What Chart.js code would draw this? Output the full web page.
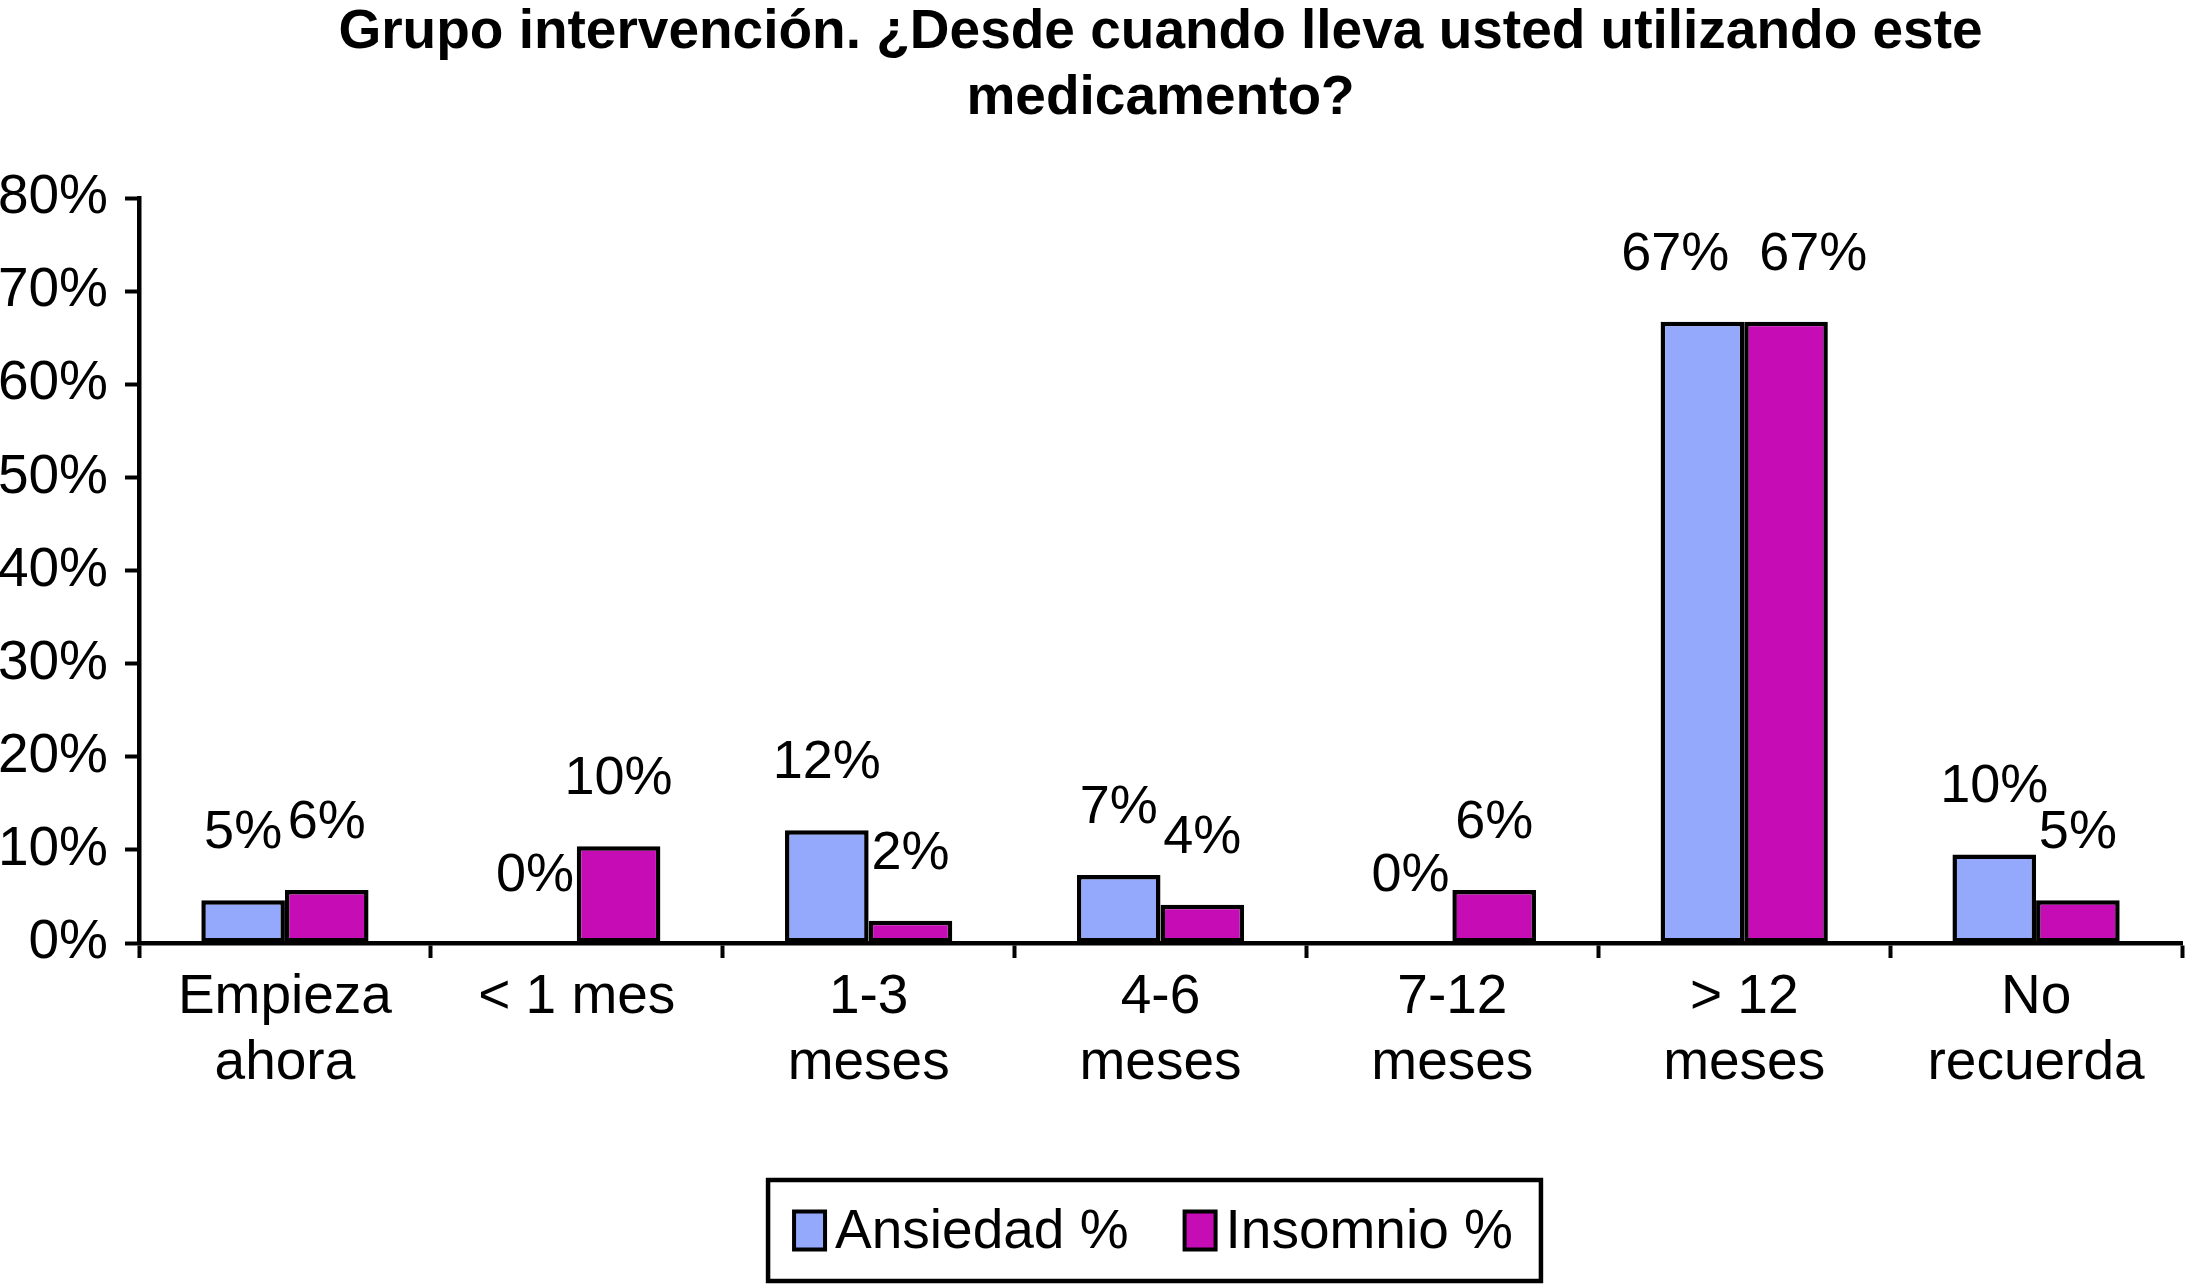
<!DOCTYPE html>
<html>
<head>
<meta charset="utf-8">
<script src="https://cdn.jsdelivr.net/npm/chart.js@4.4.1/dist/chart.umd.min.js"></script>
<style>
  html, body { margin: 0; padding: 0; background: #fff; }
  #caja { width: 2185px; height: 1285px; position: relative; }
</style>
</head>
<body>
<div id="caja"><canvas id="barChart"></canvas></div>
<script>
// Datos de la gráfica
const categorias = [
    ['Empieza', 'ahora'],
    ['< 1 mes'],
    ['1-3', 'meses'],
    ['4-6', 'meses'],
    ['7-12', 'meses'],
    ['> 12', 'meses'],
    ['No', 'recuerda']
];
const series = ['Ansiedad %', 'Insomnio %'];
const ansiedad = [4.6, 0, 12.1, 7.3, 0, 66.7, 9.5];
const insomnio = [5.7, 10.4, 2.4, 4.1, 5.7, 66.7, 4.6];
const ticksY = [0, 10, 20, 30, 40, 50, 60, 70, 80];

const fuente = "'Liberation Sans', Arial, sans-serif";

// Etiquetas de valor encima de cada barra
const etiquetas = {
    id: 'etiquetas',
    afterDatasetsDraw(chart) {
        const ctx = chart.ctx;
        ctx.save();
        ctx.font = '54px ' + fuente;
        ctx.fillStyle = '#000';
        ctx.textAlign = 'center';
        ctx.textBaseline = 'middle';
        categorias.forEach((c, i) => {
            const items = chart.data.datasets.map((ds, d) => {
                const el = chart.getDatasetMeta(d).data[i];
                const text = Math.round(ds.data[i]) + '%';
                return { x: el.x, y: el.y, text: text, w: ctx.measureText(text).width };
            });
            // separar solo si se pisan mucho
            for (let k = 1; k < items.length; k++) {
                const a = items[k - 1], b = items[k];
                if (a.x + a.w / 2 - (b.x - b.w / 2) > 15) {
                    const mid = (a.x + b.x) / 2;
                    const need = (a.w + b.w) / 2 + 30;
                    a.x = mid - need / 2;
                    b.x = mid + need / 2;
                }
            }
            items.forEach(it => ctx.fillText(it.text, it.x, it.y - 67));
        });
        ctx.restore();
    }
};

// Leyenda con recuadro
const leyenda = {
    id: 'leyenda',
    afterDraw(chart) {
        const ctx = chart.ctx;
        const area = chart.chartArea;
        ctx.save();
        ctx.font = '55px ' + fuente;
        const cuadro = 31, gapTexto = 10, gapItems = 56, padL = 26, padR = 28;
        const anchos = series.map(s => ctx.measureText(s).width);
        let total = padL + padR + gapItems * (series.length - 1);
        anchos.forEach(w => total += cuadro + gapTexto + w);
        const alto = 101;
        const top = chart.height - alto - 4;
        const left = (area.left + area.right) / 2 - total / 2 - 6;
        ctx.lineWidth = 4.5;
        ctx.strokeStyle = '#000';
        ctx.strokeRect(left, top, total, alto);
        const cy = top + alto / 2;
        let x = left + padL;
        series.forEach((s, i) => {
            const ds = chart.data.datasets[i];
            ctx.fillStyle = ds.backgroundColor;
            ctx.fillRect(x, cy - 19, cuadro, 38);
            ctx.lineWidth = 4;
            ctx.strokeRect(x, cy - 19, cuadro, 38);
            ctx.fillStyle = '#000';
            ctx.textAlign = 'left';
            ctx.textBaseline = 'middle';
            ctx.fillText(s, x + cuadro + gapTexto, cy + 2);
            x += cuadro + gapTexto + anchos[i] + gapItems;
        });
        ctx.restore();
    }
};

document.addEventListener('DOMContentLoaded', function () {
    const bctx = document.getElementById('barChart').getContext('2d');
    const barchart = new Chart(bctx, {
        type: 'bar',
        data: {
            labels: categorias,
            datasets: [{
                label: series[0],
                data: ansiedad,
                backgroundColor: '#94A8FC',
                borderColor: '#000',
                borderWidth: 4.5,
                borderSkipped: false
            }, {
                label: series[1],
                data: insomnio,
                backgroundColor: '#C60CB4',
                borderColor: '#000',
                borderWidth: 4.5,
                borderSkipped: false
            }]
        },
        options: {
            responsive: true,
            maintainAspectRatio: false,
            devicePixelRatio: 1,
            animation: false,
            layout: { padding: { left: 0, right: 3, top: 0, bottom: 182 } },
            plugins: {
                legend: { display: false },
                tooltip: { enabled: false },
                title: {
                    display: true,
                    fullSize: false,
                    text: ['Grupo intervención. ¿Desde cuando lleva usted utilizando este', 'medicamento?'],
                    color: '#000',
                    font: { family: fuente, size: 55, weight: 'bold', lineHeight: 1.2 },
                    padding: { top: 0, bottom: 66 }
                }
            },
            datasets: {
                bar: { categoryPercentage: 0.573, barPercentage: 1 }
            },
            scales: {
                x: {
                    offset: true,
                    grid: {
                        offset: true,
                        drawOnChartArea: false,
                        tickLength: 15,
                        tickWidth: 4,
                        tickColor: '#000'
                    },
                    border: { color: '#000', width: 4.5 },
                    ticks: {
                        color: '#000',
                        padding: 7,
                        maxRotation: 0,
                        autoSkip: false,
                        font: { family: fuente, size: 55, lineHeight: 1.2 }
                    },
                    afterFit(scale) { scale.height = 160; }
                },
                y: {
                    min: 0,
                    max: 80,
                    afterBuildTicks(scale) { scale.ticks = ticksY.map(v => ({ value: v })); },
                    grid: {
                        drawOnChartArea: false,
                        tickLength: 14,
                        tickWidth: 4,
                        tickColor: '#000'
                    },
                    border: { color: '#000', width: 4.5 },
                    ticks: {
                        color: '#000',
                        padding: 17,
                        font: { family: fuente, size: 55 },
                        callback: v => v + '%'
                    },
                    afterFit(scale) { scale.width = 139; }
                }
            }
        },
        plugins: [etiquetas, leyenda]
    });
});
</script>
</body>
</html>
